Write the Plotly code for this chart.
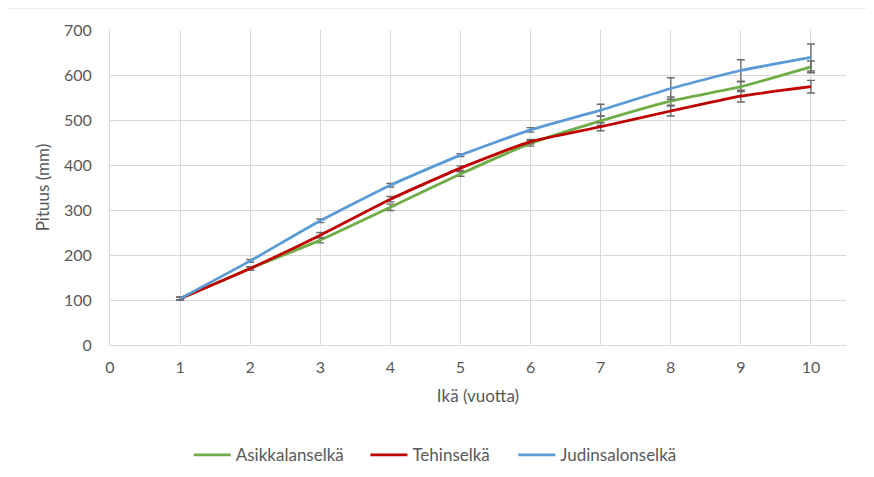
import plotly.graph_objects as go

ages = [1, 2, 3, 4, 5, 6, 7, 8, 9, 10]
asikkala = [103, 170, 233, 306, 380, 448, 498, 542, 574, 618]
asikkala_err = [3, 4, 6, 7, 5, 6, 10, 9, 11, 13]
tehin = [103, 170, 244, 324, 393, 452, 485, 520, 553, 574]
tehin_err = [3, 4, 6, 6, 5, 5, 9, 11, 13, 14]
judin = [103, 187, 276, 355, 422, 478, 522, 570, 610, 639]
judin_err = [3, 3, 4, 4, 3, 5, 13, 24, 24, 30]
names = ["Asikkalanselkä", "Tehinselkä", "Judinsalonselkä"]
colors = ["#70AD47", "#C00000", "#5B9BD5"]
legend_ids = ["legend", "legend2", "legend3"]
legend_x = [0.107, 0.347, 0.548]

FONT = "Lato"
TXT = "#595959"

fig = go.Figure()
for name, ys, err, col, lg in zip(names, [asikkala, tehin, judin],
                                  [asikkala_err, tehin_err, judin_err],
                                  colors, legend_ids):
    fig.add_trace(go.Scatter(
        x=ages, y=ys, name=name, mode="lines", legend=lg,
        line=dict(color=col, width=2.8, shape="spline", smoothing=0.5),
        error_y=dict(type="data", array=err, visible=True,
                     color="#6b6b6b", thickness=1.4, width=4),
    ))

legend_style = dict(orientation="h", xanchor="left", y=-0.35,
                    yanchor="middle", font=dict(size=17, color=TXT),
                    itemwidth=37, bgcolor="rgba(0,0,0,0)")

fig.update_layout(
    width=874, height=477,
    margin=dict(l=102, r=36, t=22, b=140),
    paper_bgcolor="white", plot_bgcolor="white",
    font=dict(family=FONT, size=16, color=TXT),
    showlegend=True,
    legend=dict(x=legend_x[0], **legend_style),
    legend2=dict(x=legend_x[1], **legend_style),
    legend3=dict(x=legend_x[2], **legend_style),
    xaxis=dict(range=[0, 10.5], tickmode="array", tickvals=list(range(0, 11)),
               showgrid=True, gridcolor="#D9D9D9", gridwidth=1,
               showline=True, linecolor="#D9D9D9", zeroline=False,
               ticks="", ticklabelstandoff=8,
               tickfont=dict(size=16, color=TXT),
               title=dict(text="Ikä (vuotta)", standoff=14,
                          font=dict(size=17, color=TXT))),
    yaxis=dict(range=[0, 700], tickmode="array",
               tickvals=[0, 100, 200, 300, 400, 500, 600, 700],
               showgrid=True, gridcolor="#D9D9D9", gridwidth=1,
               showline=True, linecolor="#D9D9D9", zeroline=False,
               ticks="", ticklabelstandoff=14,
               tickfont=dict(size=16, color=TXT),
               title=dict(text="Pituus (mm)", standoff=10,
                          font=dict(size=17, color=TXT))),
    shapes=[dict(type="rect", xref="paper", yref="paper",
                 x0=-0.14, x1=1.2, y0=-0.5, y1=1.07,
                 line=dict(color="#D9D9D9", width=1.2), layer="below")],
)

fig.write_html("out.html")
